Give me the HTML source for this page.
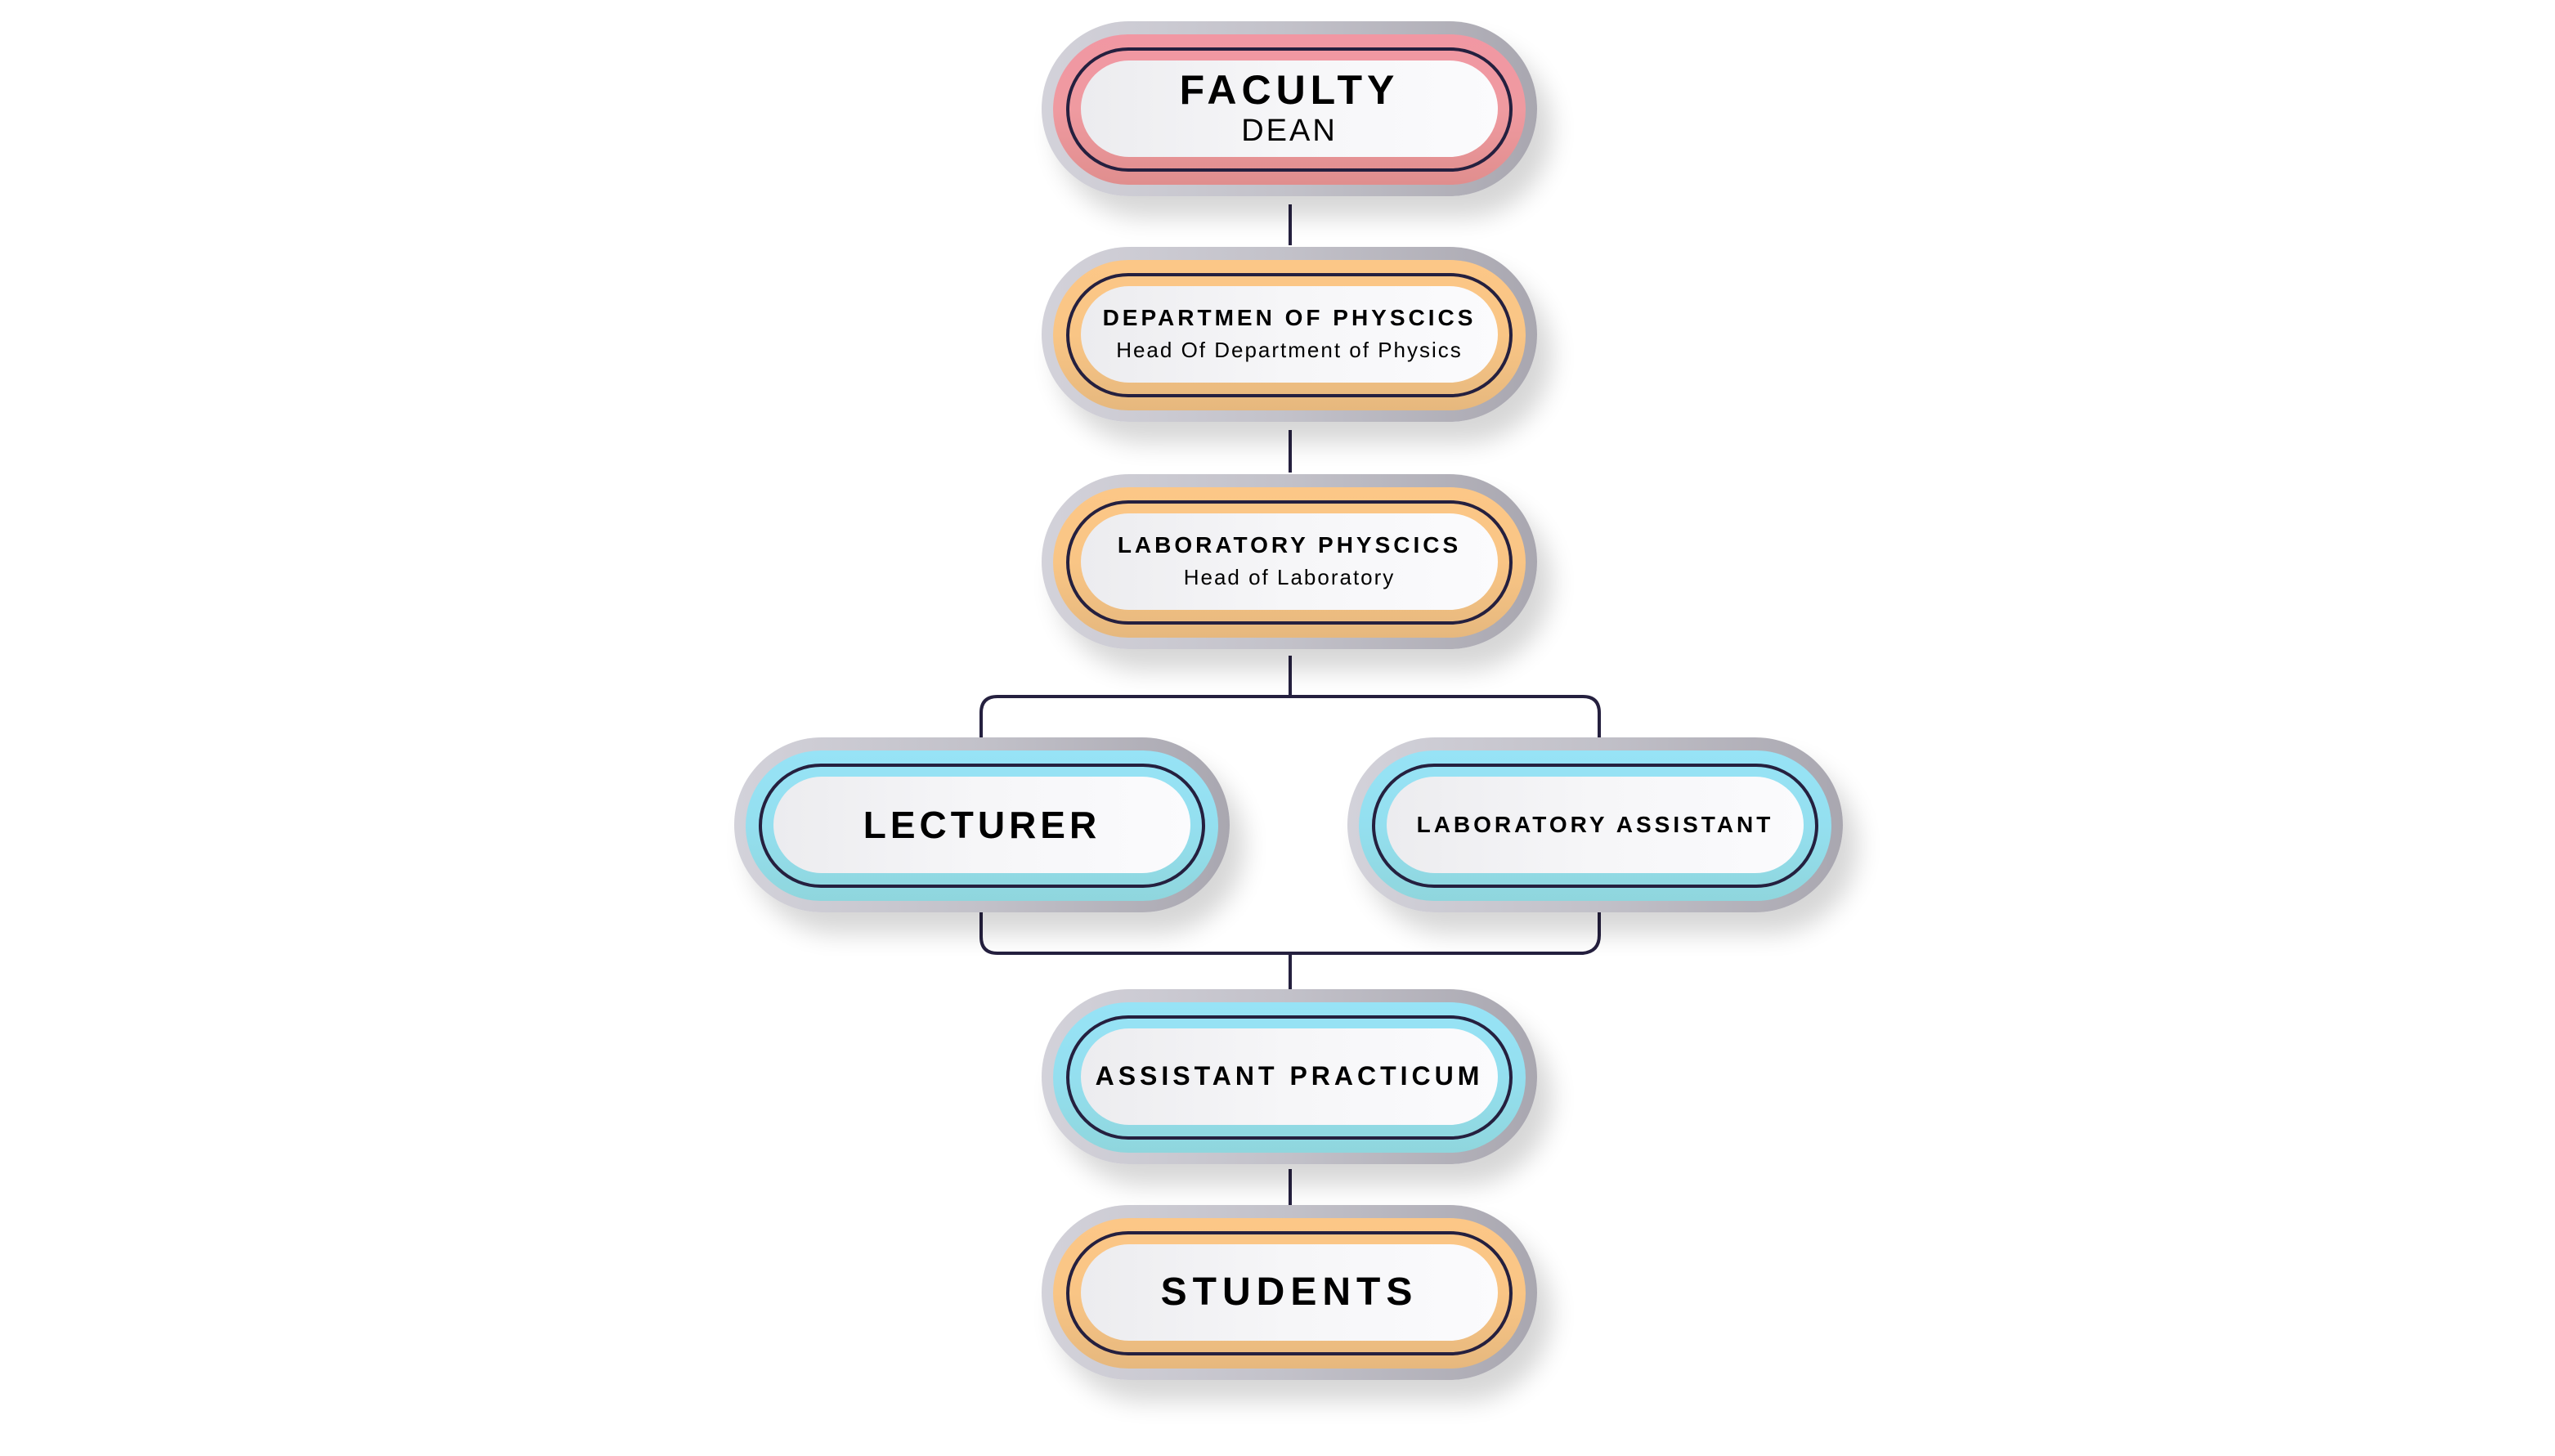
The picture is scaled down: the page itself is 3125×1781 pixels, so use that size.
<!DOCTYPE html>
<html><head><meta charset="utf-8">
<style>
html,body{margin:0;padding:0;background:#fff;}
body{width:3125px;height:1781px;position:relative;overflow:hidden;font-family:"Liberation Sans",sans-serif;}
.wrap{position:absolute;left:-6px;top:-4px;width:3125px;height:1781px;}
.n{position:absolute;width:606px;height:214px;border-radius:107px;
 background:linear-gradient(90deg,#d3d2da 0%,#c2c1c9 50%,#a9a7b0 100%);
 box-shadow:18px 26px 30px rgba(0,0,0,0.16);}
.r{position:absolute;left:14px;top:16px;width:578px;height:184px;border-radius:92px;}
.pink{background:linear-gradient(180deg,#f197a3 0%,#ef9aa0 50%,#e08e8e 100%);}
.org{background:linear-gradient(180deg,#fcc787 0%,#f9c585 50%,#e6b87e 100%);}
.cy{background:linear-gradient(180deg,#97e3f6 0%,#94dfef 50%,#8fd6dd 100%);}
.o{position:absolute;left:30px;top:32px;width:538px;height:144px;border-radius:76px;border:4px solid #25203f;}
.w{position:absolute;left:48px;top:48px;width:510px;height:118px;border-radius:59px;
 background:linear-gradient(90deg,#ececef 0%,#f6f6f8 50%,#fbfbfd 100%);
 display:flex;flex-direction:column;align-items:center;justify-content:center;color:#000;text-align:center;}
.t{font-weight:bold;letter-spacing:4px;white-space:nowrap;line-height:1.1;}
.s{letter-spacing:2px;white-space:nowrap;line-height:1.2;}
.l{position:absolute;background:#25203f;}
</style></head><body><div class="wrap">

<div class="l" style="left:1582px;top:254px;width:4px;height:50px"></div>
<div class="l" style="left:1582px;top:530px;width:4px;height:52px"></div>
<div class="l" style="left:1582px;top:806px;width:4px;height:52px"></div>
<svg style="position:absolute;left:0;top:0" width="3125" height="1781">
<path d="M1206 906 V876 Q1206 856 1226 856 H1942 Q1962 856 1962 876 V906" fill="none" stroke="#25203f" stroke-width="4"/>
<path d="M1206 1120 V1150 Q1206 1170 1226 1170 H1942 Q1962 1168 1962 1148 V1120" fill="none" stroke="#25203f" stroke-width="4"/>
</svg>
<div class="l" style="left:1582px;top:1170px;width:4px;height:44px"></div>
<div class="l" style="left:1582px;top:1434px;width:4px;height:44px"></div>

<div class="n" style="left:1280px;top:30px"><div class="r pink"></div><div class="o"></div>
<div class="w"><div class="t" style="font-size:50px;letter-spacing:6px">FACULTY</div><div class="s" style="font-size:38px;letter-spacing:3px">DEAN</div></div></div>

<div class="n" style="left:1280px;top:306px"><div class="r org"></div><div class="o"></div>
<div class="w"><div class="t" style="font-size:28px;letter-spacing:4px">DEPARTMEN OF PHYSCICS</div><div class="s" style="font-size:26px;margin-top:8px">Head Of Department of Physics</div></div></div>

<div class="n" style="left:1280px;top:584px"><div class="r org"></div><div class="o"></div>
<div class="w"><div class="t" style="font-size:28px;letter-spacing:4px">LABORATORY PHYSCICS</div><div class="s" style="font-size:26px;margin-top:8px">Head of Laboratory</div></div></div>

<div class="n" style="left:904px;top:906px"><div class="r cy"></div><div class="o"></div>
<div class="w"><div class="t" style="font-size:46px;letter-spacing:5px">LECTURER</div></div></div>

<div class="n" style="left:1654px;top:906px"><div class="r cy"></div><div class="o"></div>
<div class="w"><div class="t" style="font-size:28px;letter-spacing:4px">LABORATORY ASSISTANT</div></div></div>

<div class="n" style="left:1280px;top:1214px"><div class="r cy"></div><div class="o"></div>
<div class="w"><div class="t" style="font-size:32px;letter-spacing:5px">ASSISTANT PRACTICUM</div></div></div>

<div class="n" style="left:1280px;top:1478px"><div class="r org"></div><div class="o"></div>
<div class="w"><div class="t" style="font-size:48px;letter-spacing:7px">STUDENTS</div></div></div>

</div></body></html>
